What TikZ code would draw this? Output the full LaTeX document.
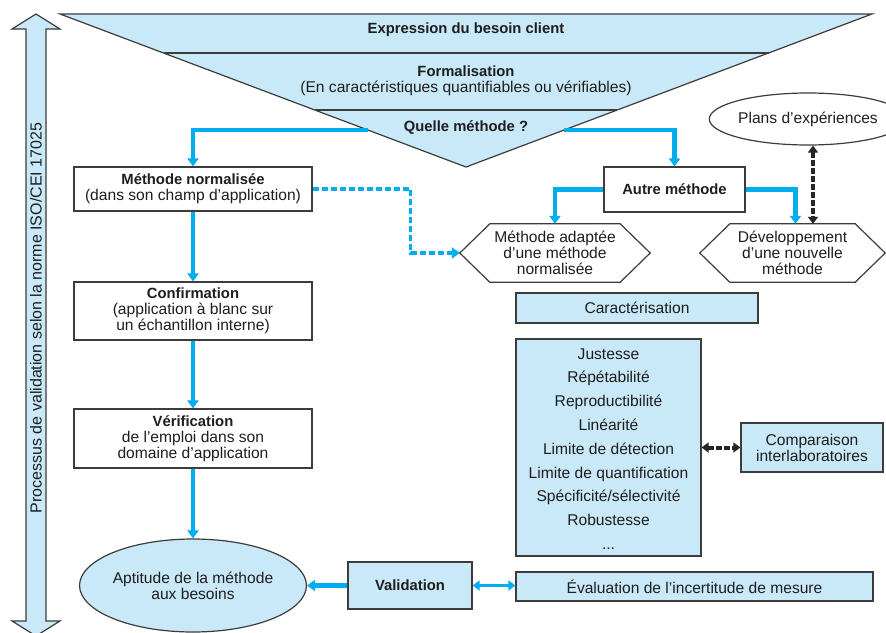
\documentclass[tikz,border=0pt]{standalone}
\usepackage{fontspec}
\setmainfont{Liberation Sans}
\usetikzlibrary{arrows.meta,shapes.geometric,calc}
\definecolor{cyanline}{HTML}{00AEEF}
\definecolor{lightfill}{HTML}{C9E8F8}
\definecolor{edgegray}{HTML}{3C3C3C}
\definecolor{txt}{HTML}{1E1E1E}
\newcommand\bt[1]{{\fontsize{14.8}{16}\selectfont\bfseries #1}}
\tikzset{
  base/.style={draw=edgegray, line width=1.2pt, align=center, inner sep=0pt, text=txt},
  wbox/.style={base, rectangle, fill=white},
  bbox/.style={base, rectangle, fill=lightfill},
  ell/.style={base, ellipse},
  hexnode/.style={rectangle, align=center, inner sep=0pt, text=txt},
  flow/.style={draw=cyanline, line width=4.5pt, -{Triangle[length=8pt,width=11pt]}},
  dflow/.style={draw=cyanline, line width=3.6pt, dash pattern=on 6pt off 3pt, -{Triangle[length=8pt,width=11pt]}},
  bdflow/.style={draw=black!85, line width=4pt, dash pattern=on 5.5pt off 2.5pt, {Triangle[length=7pt,width=10pt]}-{Triangle[length=7pt,width=10pt]}},
  bflow2/.style={draw=cyanline, line width=3pt, {Triangle[length=7pt,width=10pt]}-{Triangle[length=7pt,width=10pt]}},
}
\begin{document}
\begin{tikzpicture}[x=1pt,y=-1pt, font=\fontsize{15.6}{16}\selectfont]
\useasboundingbox (0,0) rectangle (886,632);
\fill[white] (0,0) rectangle (886,632);

% left vertical double arrow
\begin{scope}
\clip (0,0) rectangle (886,632);
\draw[draw=edgegray, line width=1.2pt, fill=lightfill]
  (36,14) -- (60,29) -- (46,29) -- (46,621) -- (60,621) -- (36,636) -- (12,621) -- (26,621) -- (26,29) -- (12,29) -- cycle;
\end{scope}
\node[rotate=90, text=txt, font=\fontsize{16}{16}\selectfont] (proc) at (36,318) {Processus de validation selon la norme ISO/CEI 17025};

% funnel triangle
\draw[draw=edgegray, line width=1.2pt, fill=lightfill] (60,14) -- (872,14) -- (466,167) -- cycle;
\draw[draw=edgegray, line width=1.2pt] (163.5,53) -- (768.5,53);
\draw[draw=edgegray, line width=1.2pt] (314.8,110) -- (617.2,110);
\node[text=txt] (expr) at (466,30) {\bt{Expression du besoin client}};
\node[text=txt, align=center] (forma) at (466,81) {\bt{Formalisation}\\(En caractéristiques quantifiables ou vérifiables)};
\node[text=txt] (quelle) at (466,128) {\bt{Quelle méthode ?}};
\coordinate (ql) at (368,130);
\coordinate (qr) at (564,130);
\coordinate (px) at (813,0);

% left column
\node[wbox, minimum width=238pt, minimum height=44pt] (mn) at (193,189) {\bt{Méthode normalisée}\\(dans son champ d’application)};
\node[wbox, minimum width=238pt, minimum height=58pt] (conf) at (193,311) {\bt{Confirmation}\\(application à blanc sur\\un échantillon interne)};
\node[wbox, minimum width=238pt, minimum height=59pt] (verif) at (193,438.5) {\bt{Vérification}\\de l’emploi dans son\\domaine d’application};
\node[ell, fill=lightfill, minimum width=220pt, minimum height=93pt] (apt) at (193,585.5) {Aptitude de la méthode\\aux besoins};

% right part
\node[wbox, minimum width=141pt, minimum height=45pt] (autre) at (674.5,189.5) {\bt{Autre méthode}};
\node[hexnode, minimum width=190pt, minimum height=58pt] (hexa) at (555,253) {Méthode adaptée\\d’une méthode\\normalisée};
\node[hexnode, minimum width=185pt, minimum height=58pt] (hexb) at (792.5,253) {Développement\\d’une nouvelle\\méthode};
\foreach \h in {hexa,hexb}{
  \draw[draw=edgegray, line width=1.2pt] (\h.west) -- ($(\h.north west)+(30,0)$) -- ($(\h.north east)+(-30,0)$) -- (\h.east) -- ($(\h.south east)+(-30,0)$) -- ($(\h.south west)+(30,0)$) -- cycle;
}
\node[ell, fill=white, minimum width=156pt, minimum height=52pt] (plans) at (808,119) {Plans d’expériences};

\node[bbox, minimum width=242pt, minimum height=30pt] (carac) at (637,308) {Caractérisation};
\node[bbox, minimum width=185pt, minimum height=217pt] (list) at (608.5,447.5) {};
\node[text=txt, align=center, font=\fontsize{15.6}{23.8}\selectfont] (listtxt) at (608.5,449) {Justesse\\Répétabilité\\Reproductibilité\\Linéarité\\Limite de détection\\Limite de quantification\\Spécificité/sélectivité\\Robustesse\\...};
\node[bbox, minimum width=142pt, minimum height=49pt] (comp) at (812,447.5) {Comparaison\\interlaboratoires};
\node[bbox, minimum width=357pt, minimum height=29pt] (eval) at (694.5,586.5) {Évaluation de l’incertitude de mesure};
\node[bbox, minimum width=124pt, minimum height=47pt] (valid) at (410,585.5) {\bt{Validation}};

% connectors
\draw[flow] (ql) -| (mn.north);
\draw[flow] (qr) -| (autre.north);
\draw[flow] (autre.west) -| (hexa.north);
\draw[flow] (autre.east) -| ([xshift=3pt]hexb.north);
\draw[dflow] (mn.east) -- ++(98,0) |- (hexa.west);
\draw[bdflow] (px |- plans.south) -- (px |- hexb.north);
\draw[flow] (mn.south) -- (conf.north);
\draw[flow] (conf.south) -- (verif.north);
\draw[flow] (verif.south) -- (apt.north);
\draw[flow] (valid.west) -- (apt.east);
\draw[bflow2] (valid.east) -- (eval.west |- valid.east);
\draw[bdflow] (list.east) -- (comp.west);
\end{tikzpicture}
\end{document}
